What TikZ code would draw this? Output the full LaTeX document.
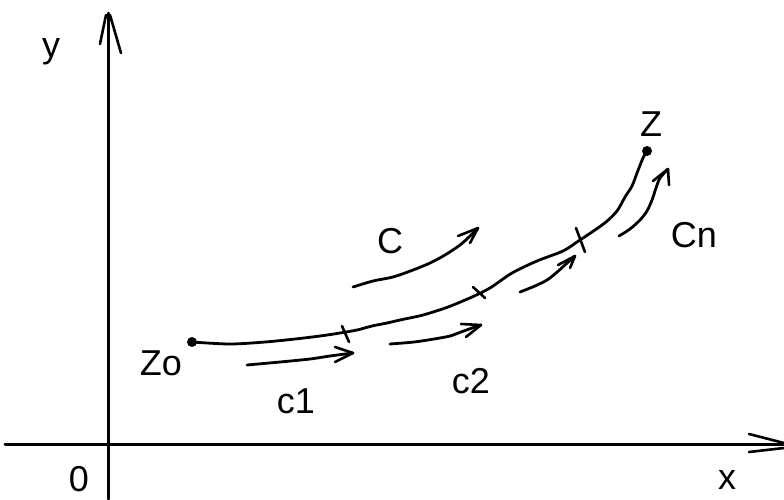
\documentclass[tikz,border=0pt]{standalone}
\usepackage{fontspec}
\setmainfont{Liberation Sans}
\begin{document}
\begin{tikzpicture}[x=1pt,y=-1pt, line cap=round, line join=round,
  axis/.style={line width=3pt},
  curve/.style={line width=2.8pt},
  barb/.style={line width=2.6pt},
  lbl/.style={inner sep=0pt, anchor=base, font=\fontsize{36}{40}\selectfont},
  edgelbl/.style={lbl, text depth=0pt, text height=26pt},
  dotmark/.style={circle, fill, inner sep=0pt, minimum size=10pt}]
\useasboundingbox (0,0) rectangle (784,499);

% axes
\coordinate (ybot) at (108,499);
\coordinate (ytop) at (108,13);
\coordinate (xl) at (5,444);
\coordinate (xr) at (784,444);
\draw[axis] (ybot) -- (ytop);
\draw[axis] (xl) -- (xr);
\coordinate (yb1) at (100,44);
\coordinate (yb2) at (121,53);
\draw[barb] (106,15) -- (yb1);
\draw[barb] (110,15) -- (yb2);
\coordinate (xb1) at (749,434);
\coordinate (xb2) at (749,452);
\draw[barb] (xb1) -- (784,443);
\draw[barb] (xb2) -- (784,448);

% labels
\node[lbl] (ylab) at (51,57) {y};
\node[edgelbl] (olab) at (79,491) {0};
\node[edgelbl] (xlab) at (727,489) {x};
\node[lbl] (zolab) at (161,375) {Zo};
\node[lbl] (zlab) at (651,136) {Z};
\node[lbl] (c1lab) at (296,413) {c1};
\node[lbl] (c2lab) at (471,393) {c2};
\node[lbl] (Clab) at (390,253) {C};
\node[lbl] (Cnlab) at (694,247) {Cn};

% end points
\node[dotmark] (z0) at (192,342) {};
\node[dotmark] (z) at (647,151) {};

% main curve
\draw[curve] plot[smooth, tension=0.5] coordinates {(192,342) (230,344) (265,342) (295,339) (320,336) (340,333) (357,330) (372,326) (387,323) (400,320) (423,315) (448,307) (472,297) (490,288) (512,273) (537,261) (563,251) (577,242) (592,232) (606,222) (617,211) (625,197) (632,186) (637,173) (643,158) (647,151)};

% ticks on curve
\coordinate (t1a) at (342,326); \coordinate (t1b) at (349,342);
\coordinate (t2a) at (473,287); \coordinate (t2b) at (485,298);
\coordinate (t3a) at (576,228); \coordinate (t3b) at (585,252);
\draw[barb] (t1a) -- (t1b);
\draw[barb] (t2a) -- (t2b);
\draw[barb] (t3a) -- (t3b);

% c1 arrow
\coordinate (c1tip) at (353,353);
\draw[curve] plot[smooth, tension=0.5] coordinates {(247,365) (280,362) (310,359) (330,356) (c1tip)};
\draw[barb] (c1tip) -- (335,347);
\draw[barb] (c1tip) -- (335,362);

% c2 arrow
\coordinate (c2tip) at (481,325);
\draw[curve] plot[smooth, tension=0.5] coordinates {(390,344) (414,342) (434,339) (450,336) (461,332) (472,328) (c2tip)};
\draw[barb] (c2tip) -- (461,324);
\draw[barb] (c2tip) -- (466,337);

% C arrow
\coordinate (Ctip) at (478,228);
\draw[curve] plot[smooth, tension=0.5] coordinates {(353,287) (373,281) (393,277) (413,270) (430,263) (445,255) (460,245) (470,236) (Ctip)};
\draw[barb] (Ctip) -- (458,236);
\draw[barb] (Ctip) -- (470,243);

% arrow between c2 and Cn
\coordinate (c3tip) at (575,256);
\draw[curve] plot[smooth, tension=0.5] coordinates {(520,292) (535,286) (547,280) (556,273) (566,264) (c3tip)};
\draw[barb] (c3tip) -- (558,265);
\draw[barb] (c3tip) -- (570,268);

% Cn arrow
\coordinate (Cntip) at (668,169);
\draw[curve] plot[smooth, tension=0.5] coordinates {(619,236) (630,229) (640,220) (647,211) (652,200) (656,188) (660,178) (Cntip)};
\draw[barb] (Cntip) -- (653,181);
\draw[barb] (Cntip) -- (669,185);
\end{tikzpicture}
\end{document}
